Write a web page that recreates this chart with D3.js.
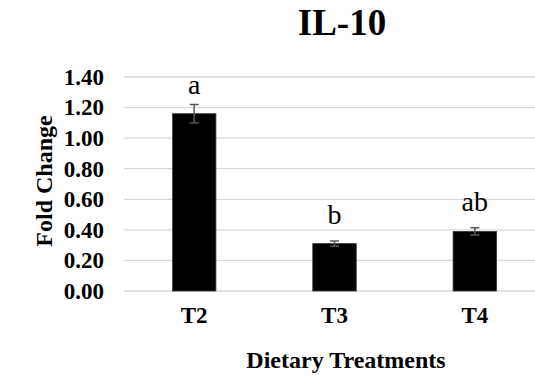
<!DOCTYPE html>
<html>
<head>
<meta charset="utf-8">
<script src="https://cdn.jsdelivr.net/npm/d3@7"></script>
<style>
  body { margin: 0; background: #fff; }
  svg text { font-family: "Liberation Serif", "Times New Roman", serif !important; fill: #000; }
</style>
</head>
<body>
<div id="chart"></div>
<script>
// data
const treatments = ["T2", "T3", "T4"];
const foldChange = [1.16, 0.31, 0.39];
const errValues = [0.06, 0.017, 0.024];
const sigLetters = ["a", "b", "ab"];
const yTicks = [0, 0.2, 0.4, 0.6, 0.8, 1.0, 1.2, 1.4];

const width = 535, height = 383;
const serif = "Liberation Serif";

let svg = d3.select("#chart")
    .append("svg")
    .attr("width", width)
    .attr("height", height);

let x = d3.scaleBand()
    .domain(treatments)
    .range([124, 545])
    .paddingInner(0.69)
    .paddingOuter(0.345);

let y = d3.scaleLinear()
    .domain([0, 1.4])
    .range([291, 77]);

// gridlines
svg.append("g")
    .selectAll("line")
    .data(yTicks)
    .enter()
    .append("line")
    .attr("x1", 124)
    .attr("x2", width)
    .attr("y1", d => y(d))
    .attr("y2", d => y(d))
    .attr("stroke", "#d9d9d9")
    .attr("stroke-width", 1.3);

// y axis labels
let yAxis = svg.append("g")
    .attr("transform", "translate(112,0)")
    .call(d3.axisLeft(y).tickValues(yTicks).tickFormat(d3.format(".2f")).tickSize(0).tickPadding(8));
yAxis.attr("font-family", serif).attr("font-size", 23);
yAxis.select(".domain").remove();
yAxis.selectAll("text")
    .attr("font-weight", "bold")
    .attr("fill", "#000");

// x axis labels
let xAxis = svg.append("g")
    .attr("transform", "translate(0,291)")
    .call(d3.axisBottom(x).tickSize(0).tickPadding(16));
xAxis.attr("font-family", serif).attr("font-size", 23);
xAxis.select(".domain").remove();
xAxis.selectAll("text")
    .attr("font-weight", "bold")
    .attr("fill", "#000");

// bars
svg.selectAll(".bar")
    .data(treatments)
    .enter()
    .append("rect")
    .attr("class", "bar")
    .attr("x", d => x(d))
    .attr("width", x.bandwidth())
    .attr("y", (d, i) => y(foldChange[i]))
    .attr("height", (d, i) => y(0) - y(foldChange[i]))
    .attr("fill", "#000")
    .attr("stroke", "#3a3a3a")
    .attr("stroke-width", 0.8);

// error bars
let eb = svg.append("g");
treatments.forEach(function(t, i) {
    let cx = x(t) + x.bandwidth() / 2;
    let hi = y(foldChange[i] + errValues[i]);
    let lo = y(foldChange[i] - errValues[i]);
    eb.append("line").attr("x1", cx).attr("x2", cx).attr("y1", hi).attr("y2", lo);
    eb.append("line").attr("x1", cx - 4.5).attr("x2", cx + 4.5).attr("y1", hi).attr("y2", hi);
    eb.append("line").attr("x1", cx - 4.5).attr("x2", cx + 4.5).attr("y1", lo).attr("y2", lo);
});
eb.selectAll("line").attr("stroke", "#595959").attr("stroke-width", 1.5);

// significance letters
svg.selectAll(".sig")
    .data(treatments)
    .enter()
    .append("text")
    .attr("class", "sig")
    .attr("x", d => x(d) + x.bandwidth() / 2)
    .attr("y", (d, i) => y(foldChange[i]) - 20)
    .attr("text-anchor", "middle")
    .attr("font-family", serif)
    .attr("font-size", 28)
    .text((d, i) => sigLetters[i]);

// title
svg.append("text")
    .attr("x", 342)
    .attr("y", 35)
    .attr("text-anchor", "middle")
    .attr("font-family", serif)
    .attr("font-size", 37)
    .attr("font-weight", "bold")
    .text("IL-10");

// axis titles
svg.append("text")
    .attr("transform", "translate(52,181) rotate(-90)")
    .attr("text-anchor", "middle")
    .attr("font-family", serif)
    .attr("font-size", 24)
    .attr("font-weight", "bold")
    .text("Fold Change");

svg.append("text")
    .attr("x", 346)
    .attr("y", 368)
    .attr("text-anchor", "middle")
    .attr("font-family", serif)
    .attr("font-size", 24)
    .attr("font-weight", "bold")
    .text("Dietary Treatments");
</script>
</body>
</html>
